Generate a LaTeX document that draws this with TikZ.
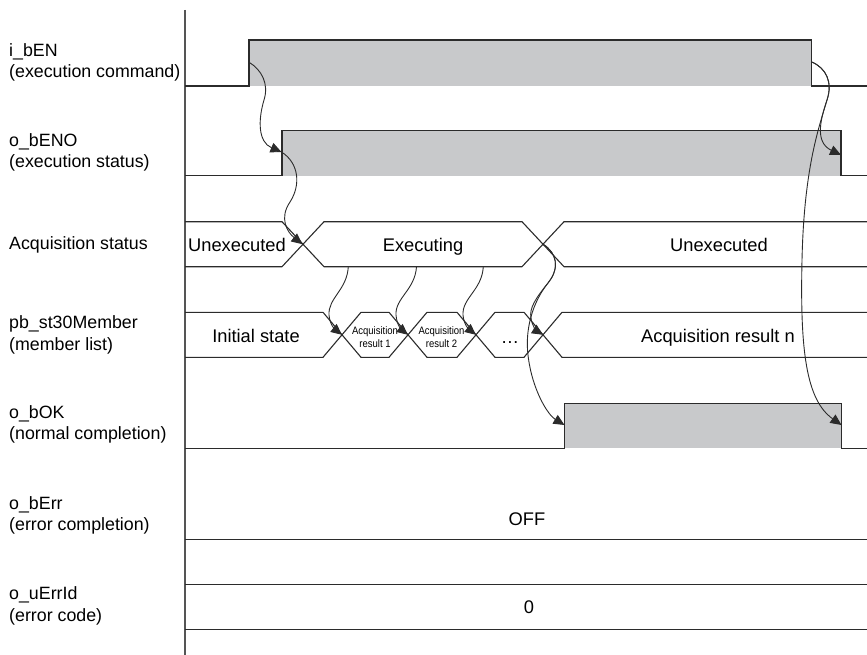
\documentclass[tikz,border=0pt]{standalone}
\usepackage{fontspec}
\setmainfont{Liberation Sans}
\usetikzlibrary{arrows.meta}
\definecolor{hifill}{HTML}{C8C9CB}
\definecolor{sigline}{HTML}{2B2B2B}
\definecolor{axisline}{HTML}{555555}
\newcommand{\cond}[1]{\scalebox{0.88}[1]{#1}}
\tikzset{
  sig/.style={draw=sigline, line width=1.1pt, line join=miter},
  hiband/.style={fill=hifill},
  axisln/.style={draw=axisline, line width=1.5pt},
  causal/.style={draw=sigline, line width=0.9pt, -{Triangle[length=11pt,width=10pt]}},
  lbl/.style={anchor=west, align=left, inner sep=0pt, font=\fontsize{17.8}{21.5}\selectfont},
  val/.style={inner sep=0pt, text height=13pt, text depth=0pt, font=\fontsize{18.3}{21.5}\selectfont},
  small/.style={inner sep=0pt, align=center, font=\fontsize{10.8}{13.5}\selectfont},
}
\begin{document}
\begin{tikzpicture}[x=1pt, y=-1pt]
\useasboundingbox (0,0) rectangle (867,655);
% axis
\draw[axisln] (185,10) -- (185,655);
% labels
\node[lbl] (l1) at (9,62.5) {i\_bEN\\(execution command)};
\node[lbl] (l2) at (9,152.5) {o\_bENO\\(execution status)};
\node[lbl] (l3) at (9,245) {Acquisition status};
\node[lbl] (l4) at (9,335) {pb\_st30Member\\(member list)};
\node[lbl] (l5) at (9,424.5) {o\_bOK\\(normal completion)};
\node[lbl] (l6) at (9,515.5) {o\_bErr\\(error completion)};
\node[lbl] (l7) at (9,606) {o\_uErrId\\(error code)};
% i_bEN
\fill[hiband] (249,40) rectangle (811.7,86);
\draw[sig] (185,86) -- (249,86) -- (249,40) -- (811.7,40) -- (811.7,86) -- (867,86);
% o_bENO
\fill[hiband] (282,130.7) rectangle (841,175.7);
\draw[sig] (185,175.7) -- (282,175.7) -- (282,130.7) -- (841,130.7) -- (841,175.7) -- (867,175.7);
% Acquisition status
\draw[sig] (185,221.7) -- (282,221.7) -- (324,266.7) -- (522,266.7) -- (564,221.7) -- (867,221.7);
\draw[sig] (185,266.7) -- (282,266.7) -- (324,221.7) -- (522,221.7) -- (564,266.7) -- (867,266.7);
\node[val] (s1) at (237,245) {Unexecuted};
\node[val] (s2) at (423,245) {Executing};
\node[val] (s3) at (719,245) {Unexecuted};
% member list
\draw[sig] (185,312.3) -- (323,312.3) -- (361,357.3) -- (389,357.3) -- (427,312.3) -- (457,312.3) -- (495,357.3) -- (524,357.3) -- (562,312.3) -- (867,312.3);
\draw[sig] (185,357.3) -- (323,357.3) -- (361,312.3) -- (389,312.3) -- (427,357.3) -- (457,357.3) -- (495,312.3) -- (524,312.3) -- (562,357.3) -- (867,357.3);
\node[val] (m0) at (256,336) {Initial state};
\node[small] (m1) at (375,337) {\cond{Acquisition}\\\cond{result 1}};
\node[small] (m2) at (441.5,337) {\cond{Acquisition}\\\cond{result 2}};
\node[val] (m3) at (510,337) {…};
\node[val] (mn) at (718,336) {Acquisition result n};
% o_bOK
\fill[hiband] (564.5,403.3) rectangle (841.5,448.3);
\draw[sig] (185,448.3) -- (564.5,448.3) -- (564.5,403.3) -- (841.5,403.3) -- (841.5,448.3) -- (867,448.3);
% o_bErr
\draw[sig] (185,539.3) -- (867,539.3);
\node[val] (off) at (527,518.5) {OFF};
% o_uErrId
\draw[sig] (185,584.3) -- (867,584.3);
\draw[sig] (185,629.3) -- (867,629.3);
\node[val] (zero) at (529,607) {0};
% event coordinates
\coordinate (enRise) at (248.7,62);
\coordinate (enoRise) at (281.5,152);
\coordinate (acqX1) at (302.5,244.2);
\coordinate (acqX2) at (543,244.2);
\coordinate (exB1) at (348.3,266.7);
\coordinate (exB2) at (416.5,266.7);
\coordinate (exB3) at (483.3,266.7);
\coordinate (memX1) at (342,334.8);
\coordinate (memX2) at (408,334.8);
\coordinate (memX3) at (476,334.8);
\coordinate (memX4) at (543,334.8);
\coordinate (okRise) at (564.5,425);
\coordinate (enFall) at (811.7,62);
\coordinate (enoFall) at (841,155);
\coordinate (okFall) at (841.5,425);
% causal arrows
\draw[causal] (enRise) .. controls (262,70) and (269,84) .. (264,100) .. controls (258,120) and (258,142) .. (enoRise);
\draw[causal] (enoRise) .. controls (299,163) and (301,185) .. (290,202) .. controls (279,218) and (287,232) .. (acqX1);
\draw[causal] (exB1) .. controls (347,290) and (328,298) .. (329,315) .. controls (330,326) and (336,330) .. (memX1);
\draw[causal] (exB2) .. controls (415,290) and (395,298) .. (396,315) .. controls (397,326) and (402,330) .. (memX2);
\draw[causal] (exB3) .. controls (482,290) and (462,298) .. (463,315) .. controls (464,326) and (470,330) .. (memX3);
\draw[causal] (acqX2) .. controls (557,253) and (560,268) .. (548,283) .. controls (536,298) and (529,308) .. (531,318) .. controls (532,326) and (537,331) .. (memX4);
\draw[causal] (acqX2) .. controls (557,253) and (560,268) .. (548,283) .. controls (532,303) and (525,330) .. (528,355) .. controls (532,390) and (548,415) .. (okRise);
\draw[causal] (enFall) .. controls (826,68) and (833,82) .. (827,100) .. controls (821,118) and (814,142) .. (enoFall);
\draw[causal] (enFall) .. controls (826,68) and (833,82) .. (827,100) .. controls (818,130) and (804,170) .. (802,260) .. controls (800,350) and (806,400) .. (okFall);
\end{tikzpicture}
\end{document}
